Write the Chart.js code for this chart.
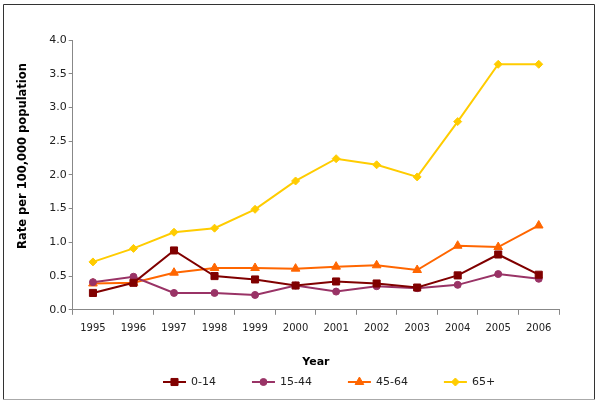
<!DOCTYPE html>
<html>
<head>
<meta charset="utf-8">
<script src="https://cdn.jsdelivr.net/npm/chart.js@4/dist/chart.umd.min.js"></script>
<style>
html,body{margin:0;padding:0;background:#fff;}
#wrap{width:600px;height:404px;position:relative;}
</style>
</head>
<body>
<div id="wrap"><canvas id="c" width="600" height="404"></canvas></div>
<script>
const years = ['1995','1996','1997','1998','1999','2000','2001','2002','2003','2004','2005','2006'];
const age0_14  = [0.25,0.40,0.88,0.50,0.45,0.36,0.42,0.39,0.33,0.51,0.82,0.52];
const age15_44 = [0.41,0.49,0.25,0.25,0.22,0.36,0.27,0.35,0.32,0.37,0.53,0.46];
const age45_64 = [0.39,0.40,0.55,0.62,0.62,0.61,0.64,0.66,0.59,0.95,0.93,1.25];
const age65p   = [0.71,0.91,1.15,1.21,1.49,1.91,2.24,2.15,1.97,2.79,3.64,3.64];
const seriesNames = ['0-14','15-44','45-64','65+'];
const yTitle = 'Rate per 100,000 population';
const xTitle = 'Year';

const FONT = 'DejaVu Sans, Verdana, sans-serif';

function ds(label, data, color, style, radius) {
  return {
    label, data,
    borderColor: color, backgroundColor: color,
    pointBackgroundColor: color, pointBorderColor: color,
    pointStyle: style, pointRadius: radius, pointHoverRadius: radius,
    borderWidth: 2, pointBorderWidth: 1, tension: 0
  };
}

const frame = {
  id: 'frame',
  afterDraw(chart) {
    const ctx = chart.ctx;
    ctx.save();
    ctx.lineWidth = 1;
    ctx.strokeStyle = '#333';
    ctx.beginPath();
    ctx.moveTo(3.5, 399.5); ctx.lineTo(3.5, 4.5); ctx.lineTo(594.5, 4.5); ctx.lineTo(594.5, 399.5);
    ctx.stroke();
    ctx.strokeStyle = '#aaa';
    ctx.beginPath();
    ctx.moveTo(3.5, 399.5); ctx.lineTo(594.5, 399.5);
    ctx.stroke();
    ctx.restore();
  }
};

const yTitlePlugin = {
  id: 'yTitlePlugin',
  afterDraw(chart) {
    const ctx = chart.ctx;
    ctx.save();
    ctx.font = 'bold 11.5px ' + FONT;
    ctx.fillStyle = '#000';
    ctx.textAlign = 'center';
    ctx.textBaseline = 'middle';
    ctx.translate(23, 156);
    ctx.rotate(-Math.PI / 2);
    ctx.fillText(yTitle, 0, 0);
    ctx.restore();
  }
};

const customLegend = {
  id: 'customLegend',
  afterDraw(chart) {
    const ctx = chart.ctx;
    ctx.save();
    ctx.font = '11px ' + FONT;
    ctx.textBaseline = 'middle';
    let x = 163;
    const y = 382;
    chart.data.datasets.forEach((d, i) => {
      ctx.strokeStyle = d.borderColor;
      ctx.lineWidth = 2;
      ctx.beginPath();
      ctx.moveTo(x, y); ctx.lineTo(x + 23, y);
      ctx.stroke();
      ctx.fillStyle = d.backgroundColor;
      ctx.strokeStyle = d.borderColor;
      ctx.lineWidth = 1;
      Chart.helpers.drawPoint(ctx, {pointStyle: d.pointStyle, radius: d.pointRadius, borderWidth: 1}, x + 11.5, y);
      ctx.fillStyle = '#222';
      ctx.textAlign = 'left';
      ctx.fillText(d.label, x + 28, y);
      x += 28 + ctx.measureText(d.label).width + 36;
    });
    ctx.restore();
  }
};

new Chart(document.getElementById('c'), {
  type: 'line',
  data: {
    labels: years,
    datasets: [
      ds(seriesNames[0], age0_14, '#800000', 'rect', 5),
      ds(seriesNames[1], age15_44, '#993366', 'circle', 3.5),
      ds(seriesNames[2], age45_64, '#FF6600', 'triangle', 5),
      ds(seriesNames[3], age65p, '#FFCC00', 'rectRot', 4)
    ]
  },
  options: {
    responsive: false,
    animation: false,
    events: [],
    layout: { padding: { left: 3, right: 41, top: 40, bottom: 33 } },
    plugins: {
      legend: { display: false },
      tooltip: { enabled: false }
    },
    scales: {
      x: {
        offset: true,
        grid: { display: true, drawOnChartArea: false, offset: true, tickLength: 5, color: '#888', tickColor: '#888' },
        border: { display: true, color: '#888', width: 1 },
        ticks: { font: { family: FONT, size: 10 }, color: '#222', padding: 8, maxRotation: 0, autoSkip: false },
        title: { display: true, text: xTitle, font: { family: FONT, size: 11, weight: 'bold' }, color: '#000', padding: { top: 13, bottom: 2 } }
      },
      y: {
        min: 0, max: 4,
        grid: { display: true, drawOnChartArea: false, tickLength: 4, color: '#888', tickColor: '#888' },
        border: { display: true, color: '#888', width: 1 },
        ticks: { stepSize: 0.5, font: { family: FONT, size: 11 }, color: '#222', padding: 2,
                 callback: v => v.toFixed(1) },
        title: { display: false },
        afterFit(scale) { scale.width += 44.2; }
      }
    }
  },
  plugins: [frame, yTitlePlugin, customLegend]
});
</script>
</body>
</html>
